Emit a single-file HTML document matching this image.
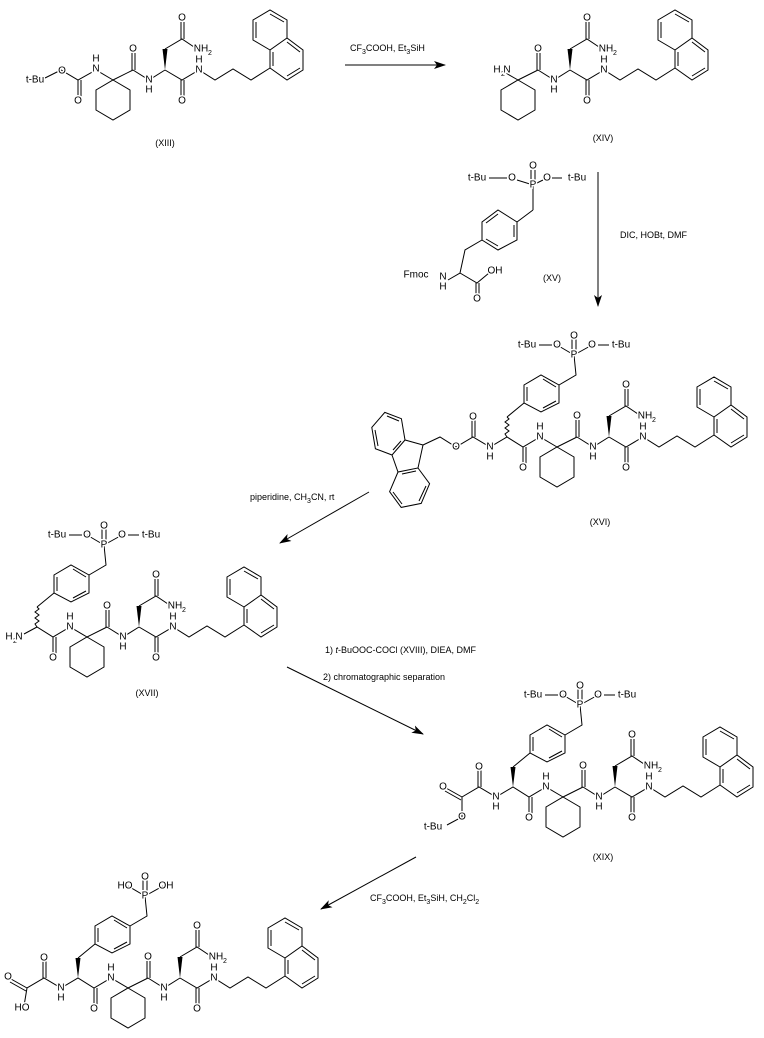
<!DOCTYPE html>
<html><head><meta charset="utf-8"><style>
html,body{margin:0;padding:0;background:#fff;width:764px;height:1038px;overflow:hidden}
svg{display:block}
.b{fill:none;stroke:#000;stroke-width:1}
text{font-family:"Liberation Sans",Arial,sans-serif;font-size:10px;fill:#000}
.a{text-anchor:middle;dominant-baseline:central;stroke:#fff;stroke-width:3;paint-order:stroke}
.s{font-size:7px}
.r{font-size:9px}
</style></head><body>
<svg width="764" height="1038" viewBox="0 0 764 1038" xmlns="http://www.w3.org/2000/svg">
<defs><marker id="ah" markerWidth="12" markerHeight="8" refX="11" refY="4" orient="auto" markerUnits="userSpaceOnUse"><path d="M0,0L12,4L0,8L3,4Z" fill="#000"/></marker></defs>

<!-- ============ XIII ============ -->
<g transform="translate(113,80)">
<path class="b" d="M0,0L-17,-10L-35,0L-52,-10L-68,-2 M-35,0V17 M-32,0V17"/>
<text class="a" x="-78" y="0">t-Bu</text><text class="a" x="-51" y="-9">O</text>
<text class="a" x="-35" y="21">O</text><text class="a" x="-17" y="-11">N</text><text class="a" x="-17" y="-21">H</text>
<polygon class="b" points="0,0 17,10 17,30 0,40 -17,30 -17,10"/>
<path class="b" d="M0,0L20,-10 M20,-10L36,0L52,-10 M19,-10V-27 M22,-10V-27 M52,-31L69,-41L84,-31 M68,-41V-58 M71,-41V-58 M52,-10L69,0L86,-10L102,0L120,-11L138,0L157,-12 M68,0V17 M71,0V17"/>
<polygon points="52,-10 49.5,-31 54.5,-31"/>
<path class="b" d="M157,-12L174,0L190,-10L190,-30L174,-42L157,-30Z M157,-30L140,-40L140,-60L157,-70L174,-60L174,-42 M174,-4L187,-12 M187,-28L174,-38 M143,-42V-58 M157,-66L171,-58 M160,-14V-28"/>
<text class="a" x="20" y="-31">O</text><text class="a" x="36" y="0">N</text><text class="a" x="36" y="10">H</text>
<text class="a" x="69" y="-62">O</text><text class="a" x="88" y="-31">NH</text><text class="s" x="95" y="-25">2</text>
<text class="a" x="69" y="21">O</text><text class="a" x="86" y="-10">N</text><text class="a" x="86" y="-20">H</text>
</g>
<text class="a r" x="165" y="143">(XIII)</text>

<!-- arrow 1 -->
<line class="b" x1="345" y1="65" x2="445" y2="65" marker-end="url(#ah)"/>
<text class="r" x="350" y="51">CF<tspan class="s" dy="3">3</tspan><tspan dy="-3">COOH, Et</tspan><tspan class="s" dy="3">3</tspan><tspan dy="-3">SiH</tspan></text>

<!-- ============ XIV ============ -->
<g transform="translate(518,80)">
<path class="b" d="M0,0L-14,-8"/>
<text class="a" x="-21" y="-10">H</text><text class="s" x="-17" y="-4">2</text><text class="a" x="-11" y="-10">N</text>
<polygon class="b" points="0,0 17,10 17,30 0,40 -17,30 -17,10"/>
<path class="b" d="M0,0L20,-10 M20,-10L36,0L52,-10 M19,-10V-27 M22,-10V-27 M52,-31L69,-41L84,-31 M68,-41V-58 M71,-41V-58 M52,-10L69,0L86,-10L102,0L120,-11L138,0L157,-12 M68,0V17 M71,0V17"/>
<polygon points="52,-10 49.5,-31 54.5,-31"/>
<path class="b" d="M157,-12L174,0L190,-10L190,-30L174,-42L157,-30Z M157,-30L140,-40L140,-60L157,-70L174,-60L174,-42 M174,-4L187,-12 M187,-28L174,-38 M143,-42V-58 M157,-66L171,-58 M160,-14V-28"/>
<text class="a" x="20" y="-31">O</text><text class="a" x="36" y="0">N</text><text class="a" x="36" y="10">H</text>
<text class="a" x="69" y="-62">O</text><text class="a" x="88" y="-31">NH</text><text class="s" x="95" y="-25">2</text>
<text class="a" x="69" y="21">O</text><text class="a" x="86" y="-10">N</text><text class="a" x="86" y="-20">H</text>
</g>
<text class="a r" x="603" y="138">(XIV)</text>

<!-- ============ XV ============ -->
<path class="b" d="M489,178H507 M517,180L533,185L543,180 M533,185V210 M531,182V170 M535,182V170 M552,178H562 M533,210L517,222 M517,222L517,240L498,250L482,240L482,222L498,210Z M486,223L498,214 M514,225V237 M498,246L486,239 M482,240L465,250L460,273L448,280 M460,273L477,283L489,273 M476,283V297 M479,283V297"/>
<text class="a" x="477" y="178">t-Bu</text><text class="a" x="512" y="178">O</text><text class="a" x="533" y="185">P</text><text class="a" x="533" y="166">O</text>
<text class="a" x="547" y="178">O</text><text class="a" x="577" y="178">t-Bu</text>
<text class="a" x="416" y="275">Fmoc</text><text class="a" x="443" y="277">N</text><text class="a" x="443" y="287">H</text>
<text class="a" x="495" y="271">OH</text><text class="a" x="477" y="299">O</text>
<text class="a r" x="552" y="278">(XV)</text>

<!-- arrow 2 -->
<line class="b" x1="598" y1="172" x2="598" y2="306" marker-end="url(#ah)"/>
<text class="r" x="620" y="238">DIC, HOBt, DMF</text>

<!-- ============ XVI ============ -->
<path class="b" d="M423,445L405,440L392,455L398,472L418,468Z M405,440L401.4,418.7L384.8,412.4L371.8,427.4L375.4,448.7L392,455 M398,472L389.6,491.7L401.2,507.4L421.2,503.4L429.6,483.7L418,468 M401,441L393,450 M378,446L375,430 M387,416L399,421 M402,474L416,471 M393,492L402,504 M419,501L426,486"/>
<g transform="translate(557,447)">
<path class="b" d="M0,0L-17,-10L-34,0L-50,-10L-67,0L-84,-10L-101,0L-117,-10L-134,-2 M-34,0V17 M-31,0V17 M-85,-10V-27 M-82,-10V-27 M-50,-30L-33,-44 M-33,-44L-33,-62L-16,-72L2,-62L2,-44L-16,-35Z M-30,-46V-60 M-1,-46L-14,-39 M-14,-68L-1,-60 M2,-62L19,-72L17,-92 M17,-92L0,-102 M17,-92L35,-102 M-18,-102H-5 M41,-102H52 M15,-95V-108 M19,-95V-108"/>
<path class="b" d="M-50,-10l-2,-3l4,-3l-4,-3l4,-3l-4,-3l4,-3l-2,-2"/>
<text class="a" x="-30" y="-102">t-Bu</text><text class="a" x="0" y="-102">O</text><text class="a" x="17" y="-92">P</text><text class="a" x="17" y="-111">O</text><text class="a" x="35" y="-102">O</text><text class="a" x="64" y="-102">t-Bu</text>
<text class="a" x="-17" y="-10">N</text><text class="a" x="-17" y="-20">H</text><text class="a" x="-34" y="21">O</text>
<text class="a" x="-67" y="0">N</text><text class="a" x="-67" y="10">H</text><text class="a" x="-84" y="-30">O</text><text class="a" x="-101" y="0">O</text>
<polygon class="b" points="0,0 17,10 17,30 0,40 -17,30 -17,10"/>
<path class="b" d="M0,0L20,-10 M20,-10L36,0L52,-10 M19,-10V-27 M22,-10V-27 M52,-31L69,-41L84,-31 M68,-41V-58 M71,-41V-58 M52,-10L69,0L86,-10L102,0L120,-11L138,0L157,-12 M68,0V17 M71,0V17"/>
<polygon points="52,-10 49.5,-31 54.5,-31"/>
<path class="b" d="M157,-12L174,0L190,-10L190,-30L174,-42L157,-30Z M157,-30L140,-40L140,-60L157,-70L174,-60L174,-42 M174,-4L187,-12 M187,-28L174,-38 M143,-42V-58 M157,-66L171,-58 M160,-14V-28"/>
<text class="a" x="20" y="-31">O</text><text class="a" x="36" y="0">N</text><text class="a" x="36" y="10">H</text>
<text class="a" x="69" y="-62">O</text><text class="a" x="88" y="-31">NH</text><text class="s" x="95" y="-25">2</text>
<text class="a" x="69" y="21">O</text><text class="a" x="86" y="-10">N</text><text class="a" x="86" y="-20">H</text>
</g>
<text class="a r" x="600" y="522">(XVI)</text>

<!-- arrow 3 -->
<line class="b" x1="369" y1="492" x2="280" y2="543" marker-end="url(#ah)"/>
<text class="r" x="250" y="500">piperidine, CH<tspan class="s" dy="3">3</tspan><tspan dy="-3">CN, rt</tspan></text>

<!-- ============ XVII ============ -->
<g transform="translate(87,637)">
<path class="b" d="M0,0L-17,-10L-34,0L-50,-10L-63,-3 M-34,0V17 M-31,0V17 M-50,-30L-33,-44 M-33,-44L-33,-62L-16,-72L2,-62L2,-44L-16,-35Z M-30,-46V-60 M-1,-46L-14,-39 M-14,-68L-1,-60 M2,-62L19,-72L17,-92 M17,-92L0,-102 M17,-92L35,-102 M-18,-102H-5 M41,-102H52 M15,-95V-108 M19,-95V-108"/>
<path class="b" d="M-50,-10l-2,-3l4,-3l-4,-3l4,-3l-4,-3l4,-3l-2,-2"/>
<text class="a" x="-30" y="-102">t-Bu</text><text class="a" x="0" y="-102">O</text><text class="a" x="17" y="-92">P</text><text class="a" x="17" y="-111">O</text><text class="a" x="35" y="-102">O</text><text class="a" x="64" y="-102">t-Bu</text>
<text class="a" x="-17" y="-10">N</text><text class="a" x="-17" y="-20">H</text><text class="a" x="-34" y="21">O</text>
<text class="a" x="-78" y="0">H</text><text class="s" x="-74" y="6">2</text><text class="a" x="-68" y="0">N</text>
<polygon class="b" points="0,0 17,10 17,30 0,40 -17,30 -17,10"/>
<path class="b" d="M0,0L20,-10 M20,-10L36,0L52,-10 M19,-10V-27 M22,-10V-27 M52,-31L69,-41L84,-31 M68,-41V-58 M71,-41V-58 M52,-10L69,0L86,-10L102,0L120,-11L138,0L157,-12 M68,0V17 M71,0V17"/>
<polygon points="52,-10 49.5,-31 54.5,-31"/>
<path class="b" d="M157,-12L174,0L190,-10L190,-30L174,-42L157,-30Z M157,-30L140,-40L140,-60L157,-70L174,-60L174,-42 M174,-4L187,-12 M187,-28L174,-38 M143,-42V-58 M157,-66L171,-58 M160,-14V-28"/>
<text class="a" x="20" y="-31">O</text><text class="a" x="36" y="0">N</text><text class="a" x="36" y="10">H</text>
<text class="a" x="69" y="-62">O</text><text class="a" x="88" y="-31">NH</text><text class="s" x="95" y="-25">2</text>
<text class="a" x="69" y="21">O</text><text class="a" x="86" y="-10">N</text><text class="a" x="86" y="-20">H</text>
</g>
<text class="a r" x="147" y="693">(XVII)</text>

<!-- arrow 4 -->
<line class="b" x1="287" y1="667" x2="423" y2="734" marker-end="url(#ah)"/>
<text class="r" x="325" y="653">1) <tspan font-style="italic">t</tspan>-BuOOC-COCl  (XVIII), DIEA, DMF</text>
<text class="r" x="323" y="680">2) chromatographic separation</text>

<!-- ============ XIX ============ -->
<g transform="translate(563,797)">
<path class="b" d="M0,0L-17,-10L-34,0L-50,-10L-67,0L-84,-10L-101,0L-101,20L-116,28 M-34,0V17 M-31,0V17 M-85,-10V-27 M-82,-10V-27 M-101,0L-117,-9 M-102,3L-118,-6 M-50,-30L-33,-44 M-33,-44L-33,-62L-16,-72L2,-62L2,-44L-16,-35Z M-30,-46V-60 M-1,-46L-14,-39 M-14,-68L-1,-60 M2,-62L19,-72L17,-92 M17,-92L0,-102 M17,-92L35,-102 M-18,-102H-5 M41,-102H52 M15,-95V-108 M19,-95V-108"/>
<polygon points="-50,-10 -52.5,-30 -47.5,-30"/>
<text class="a" x="-30" y="-102">t-Bu</text><text class="a" x="0" y="-102">O</text><text class="a" x="17" y="-92">P</text><text class="a" x="17" y="-111">O</text><text class="a" x="35" y="-102">O</text><text class="a" x="64" y="-102">t-Bu</text>
<text class="a" x="-17" y="-10">N</text><text class="a" x="-17" y="-20">H</text><text class="a" x="-34" y="21">O</text>
<text class="a" x="-67" y="0">N</text><text class="a" x="-67" y="10">H</text><text class="a" x="-84" y="-30">O</text>
<text class="a" x="-120" y="-10">O</text><text class="a" x="-101" y="20">O</text><text class="a" x="-130" y="30">t-Bu</text>
<polygon class="b" points="0,0 17,10 17,30 0,40 -17,30 -17,10"/>
<path class="b" d="M0,0L20,-10 M20,-10L36,0L52,-10 M19,-10V-27 M22,-10V-27 M52,-31L69,-41L84,-31 M68,-41V-58 M71,-41V-58 M52,-10L69,0L86,-10L102,0L120,-11L138,0L157,-12 M68,0V17 M71,0V17"/>
<polygon points="52,-10 49.5,-31 54.5,-31"/>
<path class="b" d="M157,-12L174,0L190,-10L190,-30L174,-42L157,-30Z M157,-30L140,-40L140,-60L157,-70L174,-60L174,-42 M174,-4L187,-12 M187,-28L174,-38 M143,-42V-58 M157,-66L171,-58 M160,-14V-28"/>
<text class="a" x="20" y="-31">O</text><text class="a" x="36" y="0">N</text><text class="a" x="36" y="10">H</text>
<text class="a" x="69" y="-62">O</text><text class="a" x="88" y="-31">NH</text><text class="s" x="95" y="-25">2</text>
<text class="a" x="69" y="21">O</text><text class="a" x="86" y="-10">N</text><text class="a" x="86" y="-20">H</text>
</g>
<text class="a r" x="603" y="857">(XIX)</text>

<!-- arrow 5 -->
<line class="b" x1="416" y1="857" x2="321" y2="909" marker-end="url(#ah)"/>
<text class="r" x="370" y="901">CF<tspan class="s" dy="3">3</tspan><tspan dy="-3">COOH, Et</tspan><tspan class="s" dy="3">3</tspan><tspan dy="-3">SiH, CH</tspan><tspan class="s" dy="3">2</tspan><tspan dy="-3">Cl</tspan><tspan class="s" dy="3">2</tspan></text>

<!-- ============ Final ============ -->
<g transform="translate(128,988)">
<path class="b" d="M0,0L-17,-10L-34,0L-50,-10L-67,0L-84,-10L-101,0L-104,18 M-34,0V17 M-31,0V17 M-85,-10V-27 M-82,-10V-27 M-101,0L-117,-9 M-102,3L-118,-6 M-50,-30L-33,-44 M-33,-44L-33,-62L-16,-72L2,-62L2,-44L-16,-35Z M-30,-46V-60 M-1,-46L-14,-39 M-14,-68L-1,-60 M2,-62L19,-72L17,-92 M17,-92L0,-102 M17,-92L35,-102 M15,-95V-108 M19,-95V-108"/>
<polygon points="-50,-10 -52.5,-30 -47.5,-30"/>
<text class="a" x="-3" y="-102">HO</text><text class="a" x="17" y="-92">P</text><text class="a" x="17" y="-111">O</text><text class="a" x="38" y="-102">OH</text>
<text class="a" x="-17" y="-10">N</text><text class="a" x="-17" y="-20">H</text><text class="a" x="-34" y="21">O</text>
<text class="a" x="-67" y="0">N</text><text class="a" x="-67" y="10">H</text><text class="a" x="-84" y="-30">O</text>
<text class="a" x="-120" y="-11">O</text><text class="a" x="-106" y="20">HO</text>
<polygon class="b" points="0,0 17,10 17,30 0,40 -17,30 -17,10"/>
<path class="b" d="M0,0L20,-10 M20,-10L36,0L52,-10 M19,-10V-27 M22,-10V-27 M52,-31L69,-41L84,-31 M68,-41V-58 M71,-41V-58 M52,-10L69,0L86,-10L102,0L120,-11L138,0L157,-12 M68,0V17 M71,0V17"/>
<polygon points="52,-10 49.5,-31 54.5,-31"/>
<path class="b" d="M157,-12L174,0L190,-10L190,-30L174,-42L157,-30Z M157,-30L140,-40L140,-60L157,-70L174,-60L174,-42 M174,-4L187,-12 M187,-28L174,-38 M143,-42V-58 M157,-66L171,-58 M160,-14V-28"/>
<text class="a" x="20" y="-31">O</text><text class="a" x="36" y="0">N</text><text class="a" x="36" y="10">H</text>
<text class="a" x="69" y="-62">O</text><text class="a" x="88" y="-31">NH</text><text class="s" x="95" y="-25">2</text>
<text class="a" x="69" y="21">O</text><text class="a" x="86" y="-10">N</text><text class="a" x="86" y="-20">H</text>
</g>
</svg>
</body></html>
